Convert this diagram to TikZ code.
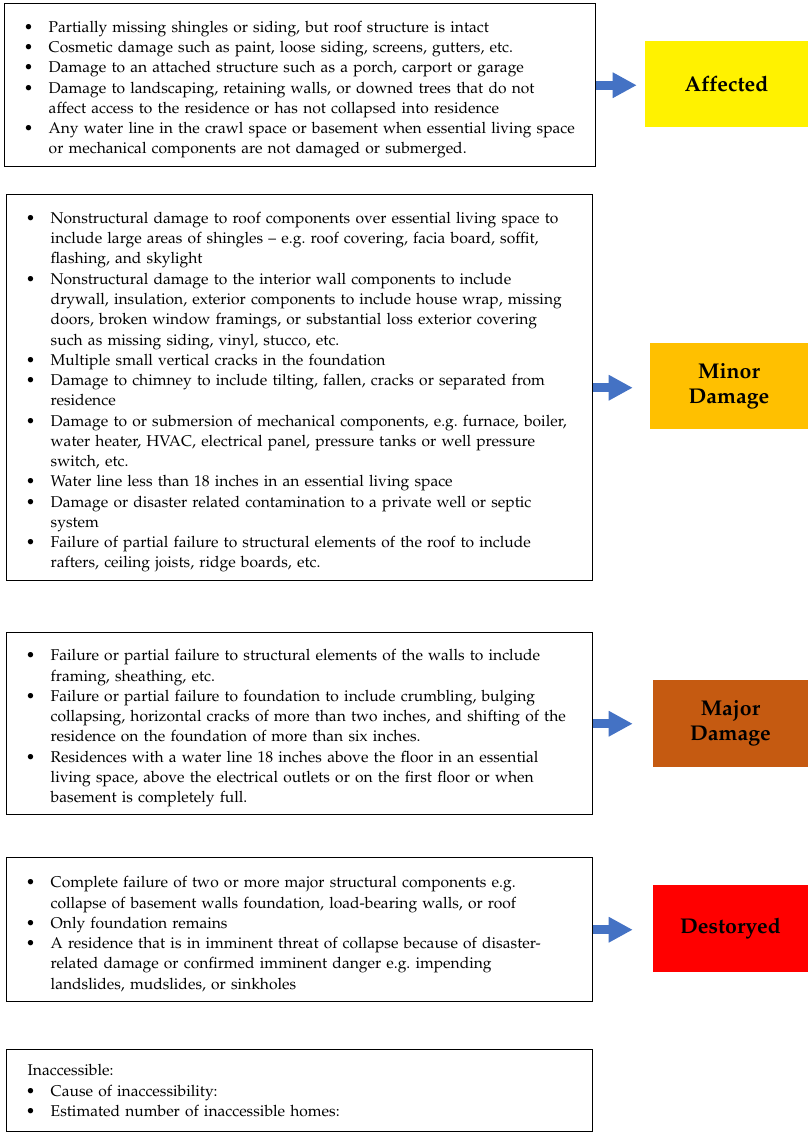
\documentclass[tikz,border=0pt]{standalone}
\usepackage[T1]{fontenc}
\usepackage{mathpazo}
\usepackage{enumitem}
\usepackage{tikz}
\usetikzlibrary{arrows.meta}
\frenchspacing
\definecolor{arrowblue}{HTML}{4472C4}
\definecolor{minorcol}{HTML}{FFC000}
\definecolor{majorcol}{HTML}{C55A11}
\tikzstyle{listbox}=[draw=black, line width=1.1pt, anchor=north west, inner sep=0pt,
  font=\fontsize{11.7pt}{15.2pt}\selectfont]
\tikzstyle{level}=[anchor=center, inner sep=0pt, align=center,
  font=\fontsize{16pt}{19pt}\selectfont\bfseries]
\tikzstyle{blockarrow}=[draw=arrowblue, line width=6.75pt, -{Triangle[length=18pt, width=18pt]}]
\setlist[itemize]{nosep, label=\textbullet, leftmargin=33pt, labelsep=11.6pt}

\begin{document}
\begin{tikzpicture}[x=0.75pt, y=-0.75pt]
  \useasboundingbox (0,0) rectangle (809,1135);

  % boxes with the lists
  \node[listbox, text width=443.25pt, minimum height=122.25pt] (b1) at (4,3) {%
    \begin{itemize}
      \item Partially missing shingles or siding, but roof structure is intact
      \item Cosmetic damage such as paint, loose siding, screens, gutters, etc.
      \item Damage to an attached structure such as a porch, carport or garage
      \item Damage to landscaping, retaining walls, or downed trees that do not\newline
        affect access to the residence or has not collapsed into residence
      \item Any water line in the crawl space or basement when essential living space\newline
        or mechanical components are not damaged or submerged.
    \end{itemize}};
  \node[listbox, text width=439.5pt, minimum height=289.5pt] (b2) at (6,194) {%
    \begin{itemize}
      \item Nonstructural damage to roof components over essential living space to\newline
        include large areas of shingles -- e.g. roof covering, facia board, soffit,\newline
        flashing, and skylight
      \item Nonstructural damage to the interior wall components to include\newline
        drywall, insulation, exterior components to include house wrap, missing\newline
        doors, broken window framings, or substantial loss exterior covering\newline
        such as missing siding, vinyl, stucco, etc.
      \item Multiple small vertical cracks in the foundation
      \item Damage to chimney to include tilting, fallen, cracks or separated from\newline
        residence
      \item Damage to or submersion of mechanical components, e.g. furnace, boiler,\newline
        water heater, HVAC, electrical panel, pressure tanks or well pressure\newline
        switch, etc.
      \item Water line less than 18 inches in an essential living space
      \item Damage or disaster related contamination to a private well or septic\newline
        system
      \item Failure of partial failure to structural elements of the roof to include\newline
        rafters, ceiling joists, ridge boards, etc.
    \end{itemize}};
  \node[listbox, text width=439.5pt, minimum height=136.5pt] (b3) at (6,632) {%
    \begin{itemize}
      \item Failure or partial failure to structural elements of the walls to include\newline
        framing, sheathing, etc.
      \item Failure or partial failure to foundation to include crumbling, bulging\newline
        collapsing, horizontal cracks of more than two inches, and shifting of the\newline
        residence on the foundation of more than six inches.
      \item Residences with a water line 18 inches above the floor in an essential\newline
        living space, above the electrical outlets or on the first floor or when\newline
        basement is completely full.
    \end{itemize}};
  \node[listbox, text width=439.5pt, minimum height=108pt] (b4) at (6,857) {%
    \begin{itemize}
      \item Complete failure of two or more major structural components e.g.\newline
        collapse of basement walls foundation, load-bearing walls, or roof
      \item Only foundation remains
      \item A residence that is in imminent threat of collapse because of disaster-\newline
        related damage or confirmed imminent danger e.g. impending\newline
        landslides, mudslides, or sinkholes
    \end{itemize}};
  \node[listbox, text width=439.5pt, minimum height=61.5pt] (b5) at (6,1049) {%
    \hspace*{15.75pt}Inaccessible:
    \begin{itemize}
      \item Cause of inaccessibility:
      \item Estimated number of inaccessible homes:
    \end{itemize}};

  % damage levels
  \node[level, fill=yellow, minimum width=122.25pt, minimum height=64.5pt] (aff) at (726.5,84) {Affected};
  \node[level, fill=minorcol, minimum width=118.5pt, minimum height=64.5pt] (mnr) at (729,386) {Minor\\Damage};
  \node[level, fill=majorcol, minimum width=116.25pt, minimum height=65.25pt] (mjr) at (730.5,723.5) {Major\\Damage};
  \node[level, fill=red, minimum width=116.25pt, minimum height=65.25pt] (dst) at (730.5,928.5) {Destoryed};

  \draw[blockarrow, shorten >=6pt] (b1.east) -- (b1.east -| aff.west);
  \draw[blockarrow, shorten >=12.75pt] (b2.east) -- (b2.east -| mnr.west);
  \draw[blockarrow, shorten >=15pt] (b3.east) -- (b3.east -| mjr.west);
  \draw[blockarrow, shorten >=15pt] (b4.east) -- (b4.east -| dst.west);
\end{tikzpicture}
\end{document}
